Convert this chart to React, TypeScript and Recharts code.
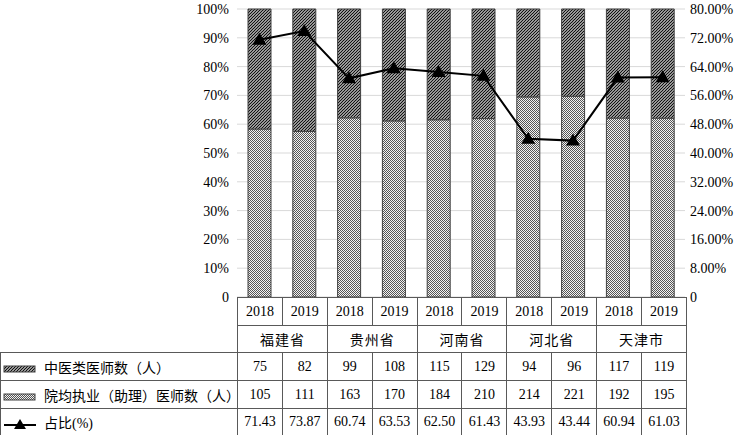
import React from "react";
import { ComposedChart, Bar, Line, XAxis, YAxis, CartesianGrid } from "recharts";

const provinces = ["福建省", "贵州省", "河南省", "河北省", "天津市"];
const years = ["2018", "2019"];
const tcmDoctors = [75, 82, 99, 108, 115, 129, 94, 96, 117, 119];
const avgDoctors = [105, 111, 163, 170, 184, 210, 214, 221, 192, 195];
const ratio = ["71.43", "73.87", "60.74", "63.53", "62.50", "61.43", "43.93", "43.44", "60.94", "61.03"];
const leftTicks = [0, 0.1, 0.2, 0.3, 0.4, 0.5, 0.6, 0.7, 0.8, 0.9, 1];
const rightTicks = [0, 8, 16, 24, 32, 40, 48, 56, 64, 72, 80];
const seriesNames = ["中医类医师数（人）", "院均执业（助理）医师数（人）", "占比(%)"];

// bars are shown as share of the column total (100% stacked)
const data = tcmDoctors.map((v, i) => {
  const total = v + avgDoctors[i];
  return {
    key: provinces[Math.floor(i / 2)] + years[i % 2],
    tcm: v / total,
    avg: avgDoctors[i] / total,
    ratio: parseFloat(ratio[i]),
  };
});

const FONT = '"Liberation Serif", "Times New Roman", "Noto Sans CJK SC", serif';
const BORDER = "1px solid #595959";

function Patterns({ prefix }: { prefix: string }) {
  return (
    <defs>
      <pattern id={prefix + "hatch"} patternUnits="userSpaceOnUse" width="3" height="3">
        <rect width="3" height="3" fill="#fff" />
        <path d="M-1,1 l2,-2 M0,3 l3,-3 M2,4 l2,-2" stroke="#111" strokeWidth="1.25" />
      </pattern>
      <pattern id={prefix + "dots"} patternUnits="userSpaceOnUse" width="2" height="2">
        <rect width="2" height="2" fill="#f2f2f2" />
        <rect width="1" height="1" fill="#555" />
        <rect x="1" y="1" width="1" height="1" fill="#555" />
      </pattern>
    </defs>
  );
}

function Triangle(props: any) {
  const { cx, cy, index } = props;
  if (cx == null || cy == null) return null;
  return <polygon key={"t" + index} points={`${cx},${cy - 7} ${cx - 7},${cy + 5} ${cx + 7},${cy + 5}`} fill="#000" />;
}

function LegendIcon({ kind }: { kind: number }) {
  return (
    <svg width="34" height="10" style={{ verticalAlign: "-1px", marginRight: 7 }}>
      <Patterns prefix="lg" />
      {kind === 0 && <rect x="1" y="2" width="31" height="6" fill="url(#lghatch)" stroke="#404040" />}
      {kind === 1 && <rect x="1" y="2" width="31" height="6" fill="url(#lgdots)" stroke="#404040" />}
      {kind === 2 && (
        <g>
          <line x1="1" y1="6" x2="33" y2="6" stroke="#000" strokeWidth="2" />
          <polygon points="17,0 11,10 23,10" fill="#000" />
        </g>
      )}
    </svg>
  );
}

export default function App() {
  const cell: React.CSSProperties = { border: BORDER, textAlign: "center", padding: 0 };
  const rows = [tcmDoctors.map(String), avgDoctors.map(String), ratio];
  return (
    <div style={{ position: "absolute", left: 0, top: 0, width: 736, height: 435, background: "#fff", fontFamily: FONT }}>
      <ComposedChart
        width={736}
        height={305}
        data={data}
        margin={{ top: 9, right: 0, bottom: 8, left: 0 }}
      >
        <Patterns prefix="ch" />
        <CartesianGrid vertical={false} stroke="#d9d9d9" yAxisId="left" />
        <XAxis dataKey="key" hide />
        <YAxis
          yAxisId="left"
          width={237}
          domain={[0, 1]}
          ticks={leftTicks}
          tickFormatter={(v: number) => (v === 0 ? "0" : Math.round(v * 100) + "%")}
          axisLine={false}
          tickLine={false}
          tick={{ fill: "#000", fontSize: 14, fontFamily: FONT }}
        />
        <YAxis
          yAxisId="right"
          orientation="right"
          width={51}
          domain={[0, 80]}
          ticks={rightTicks}
          tickFormatter={(v: number) => (v === 0 ? "0" : v.toFixed(2) + "%")}
          axisLine={false}
          tickLine={false}
          tickSize={3}
          tick={{ fill: "#000", fontSize: 14, fontFamily: FONT, textAnchor: "start" }}
        />
        <Bar yAxisId="left" dataKey="avg" name={seriesNames[1]} stackId="a" barSize={23} fill="url(#chdots)" stroke="#404040" isAnimationActive={false} />
        <Bar yAxisId="left" dataKey="tcm" name={seriesNames[0]} stackId="a" barSize={23} fill="url(#chhatch)" stroke="#404040" isAnimationActive={false} />
        <Line yAxisId="right" dataKey="ratio" name={seriesNames[2]} stroke="#000" strokeWidth={2} dot={Triangle} activeDot={false} isAnimationActive={false} />
      </ComposedChart>
      <table
        style={{
          position: "absolute",
          left: 0,
          top: 297,
          width: 686,
          borderCollapse: "collapse",
          tableLayout: "fixed",
          fontSize: 14,
          color: "#000",
        }}
      >
        <colgroup>
          <col style={{ width: 237 }} />
          {data.map((d) => (
            <col key={d.key} style={{ width: 44.9 }} />
          ))}
        </colgroup>
        <tbody>
          <tr style={{ height: 28 }}>
            <td style={{ padding: 0 }} />
            {data.map((d, i) => (
              <td key={d.key} style={cell}>{years[i % 2]}</td>
            ))}
          </tr>
          <tr style={{ height: 27 }}>
            <td style={{ padding: 0 }} />
            {provinces.map((p) => (
              <td key={p} colSpan={2} style={{ ...cell, letterSpacing: 1 }}>{p}</td>
            ))}
          </tr>
          {rows.map((r, ri) => (
            <tr key={ri} style={{ height: ri === 2 ? 27 : 28 }}>
              <td style={{ ...cell, textAlign: "left", paddingLeft: 2, whiteSpace: "nowrap" }}>
                <LegendIcon kind={ri} />
                {seriesNames[ri]}
              </td>
              {r.map((v, i) => (
                <td key={i} style={cell}>{v}</td>
              ))}
            </tr>
          ))}
        </tbody>
      </table>
    </div>
  );
}
